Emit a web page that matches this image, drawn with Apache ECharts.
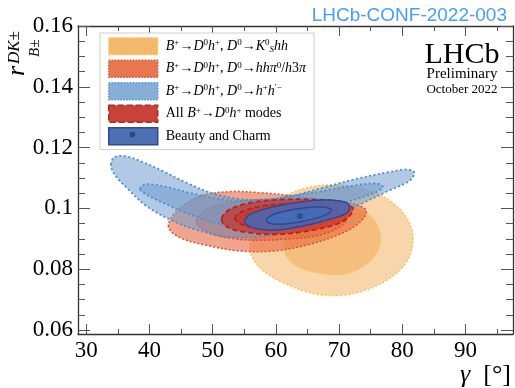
<!DOCTYPE html>
<html>
<head>
<meta charset="utf-8">
<script src="https://cdn.jsdelivr.net/npm/echarts@6/dist/echarts.min.js"></script>
<style>
  html, body { margin: 0; padding: 0; background: #fff; }
  #main { width: 515px; height: 388px; }
</style>
</head>
<body>
<div id="main"></div>
<script>
// axis ticks
const xMajor = [30, 40, 50, 60, 70, 80, 90];
const xMinor = [35, 45, 55, 65, 75, 85, 95];
const yMajor = [0.06, 0.08, 0.1, 0.12, 0.14, 0.16];
const yMinor = [0.065, 0.07, 0.075, 0.085, 0.09, 0.095, 0.105, 0.11, 0.115, 0.125, 0.13, 0.135, 0.145, 0.15, 0.155];

// contours [gamma, r_B]
// B->Dh, D->KShh
const kshh2 = [[55.9,0.0866],[56.9,0.0931],[60.1,0.1019],[63.2,0.1057],[67.4,0.1076],[71.7,0.1073],[76.4,0.1046],[80.1,0.0986],[81.7,0.0909],[80.6,0.0822],[76.9,0.0756],[71.7,0.0718],[66.4,0.0718],[61.1,0.0756],[57.4,0.0806]];
const kshh1 = [[61.4,0.0855],[62.2,0.0931],[65.3,0.0980],[69.6,0.1002],[73.8,0.0991],[76.1,0.0942],[76.4,0.0876],[74.3,0.0816],[70.6,0.0783],[66.4,0.0789],[63.2,0.0811]];
// B->Dh, D->hhpi0/h3pi
const hhpi2 = [[43.0,0.0940],[44.3,0.0991],[48.0,0.1040],[52.7,0.1055],[58.0,0.1051],[63.2,0.1040],[68.5,0.1024],[72.7,0.1013],[74.3,0.0991],[73.2,0.0953],[70.1,0.0915],[64.8,0.0879],[59.6,0.0860],[54.3,0.0860],[49.0,0.0879],[44.8,0.0904]];
const hhpi1 = [[47.4,0.0958],[49.5,0.1002],[54.3,0.1024],[60.1,0.1029],[66.4,0.1018],[70.6,0.0997],[71.1,0.0958],[67.4,0.0915],[61.1,0.0898],[54.3,0.0898],[49.5,0.0920]];
// B->Dh, D->hh'
const hh2 = [[33.9,0.1144],[34.5,0.1169],[36.4,0.1171],[39.0,0.1152],[42.2,0.1122],[45.9,0.1084],[49.5,0.1053],[53.8,0.1032],[58.0,0.1029],[62.2,0.1040],[67.4,0.1068],[72.7,0.1097],[78.0,0.1120],[80.9,0.1128],[81.9,0.1117],[81.1,0.1090],[78.0,0.1060],[73.8,0.1018],[68.5,0.0969],[63.2,0.0931],[58.0,0.0909],[52.7,0.0906],[48.0,0.0926],[43.8,0.0958],[39.5,0.1008],[36.4,0.1068],[34.5,0.1111]];
const hh1 = [[38.5,0.1064],[39.3,0.1079],[42.2,0.1073],[46.4,0.1051],[50.6,0.1032],[54.8,0.1024],[59.0,0.1029],[63.2,0.1043],[67.4,0.1057],[71.7,0.1073],[75.9,0.1082],[76.9,0.1071],[75.9,0.1054],[71.7,0.1024],[67.4,0.0999],[62.2,0.0969],[56.9,0.0948],[51.7,0.0948],[46.4,0.0980],[42.2,0.1018],[39.5,0.1046]];
// all B->Dh modes
const all2 = [[51.4,0.0966],[52.7,0.0997],[55.9,0.1018],[60.6,0.1029],[66.4,0.1029],[70.6,0.1021],[72.2,0.0997],[70.6,0.0958],[66.4,0.0931],[60.1,0.0915],[54.8,0.0923],[52.2,0.0940]];
const all1 = [[53.5,0.0966],[54.8,0.0991],[58.5,0.1010],[63.8,0.1016],[68.5,0.1013],[69.8,0.0997],[68.5,0.0969],[64.3,0.0947],[59.0,0.0937],[55.3,0.0942]];
// beauty and charm
const bc2 = [[55.1,0.0964],[56.4,0.0985],[60.1,0.1008],[64.8,0.1024],[69.0,0.1027],[71.4,0.1016],[71.4,0.0988],[68.5,0.0964],[64.3,0.0942],[60.1,0.0929],[56.9,0.0933],[55.3,0.0947]];
const bc1 = [[58.5,0.0964],[60.1,0.0984],[63.8,0.1000],[67.4,0.1005],[68.8,0.0995],[67.7,0.0977],[64.3,0.0958],[60.6,0.0948],[58.8,0.0953]];
const bestFit = [[63.8, 0.0975]];

const fontSerif = 'Liberation Serif';

// one custom series per mode: 2 sigma first, then 1 sigma on top
function contourSeries(name, shapes, fills, stroke, dash, lw) {
  return {
    name: name,
    type: 'custom',
    coordinateSystem: 'cartesian2d',
    data: shapes.map(s => s[0]),
    encode: { x: 0, y: 1 },
    silent: true,
    renderItem: function (params, api) {
      const pts = shapes[params.dataIndex].map(p => api.coord(p));
      return {
        type: 'polygon',
        shape: { points: pts, smooth: 0.35 },
        style: {
          fill: fills[params.dataIndex],
          stroke: stroke,
          lineWidth: lw,
          lineDash: dash
        }
      };
    }
  };
}

const rich = {
  i: { fontFamily: fontSerif, fontStyle: 'italic', fontSize: 14, lineHeight: 16, color: '#000' },
  t: { fontFamily: fontSerif, fontSize: 14, lineHeight: 16, color: '#000' },
  sp: { fontFamily: fontSerif, fontSize: 9, lineHeight: 9, verticalAlign: 'top', color: '#000' },
  sb: { fontFamily: fontSerif, fontStyle: 'italic', fontSize: 9, lineHeight: 9, verticalAlign: 'bottom', color: '#000' }
};
const bdh = '{i|B}{sp|+}{t|→}{i|D}{sp|0}{i|h}{sp|+}';
const legendText = {
  kshh: bdh + '{t|, }{i|D}{sp|0}{t|→}{i|K}{sp|0}{sb|S}{i|hh}',
  hhpi: bdh + '{t|, }{i|D}{sp|0}{t|→}{i|hhπ}{sp|0}{t|/}{i|h}{t|3}{i|π}',
  hh: bdh + '{t|, }{i|D}{sp|0}{t|→}{i|h}{sp|+}{i|h}{sp|′−}',
  all: '{t|All }' + bdh + '{t| modes}',
  bc: '{t|Beauty and Charm}'
};

const tickRich = { s: { fontFamily: fontSerif, fontSize: 23, color: '#000' } };

const chart = echarts.init(document.getElementById('main'), null, { renderer: 'canvas' });

function xAx(pos, ticks, len, showLine, showLabel) {
  return {
    type: 'value', min: 28.7, max: 97.5, position: pos,
    axisLine: { show: showLine, onZero: false, lineStyle: { color: '#333', width: 1.3 } },
    axisTick: { show: true, inside: true, length: len, customValues: ticks, lineStyle: { color: '#555', width: 1 } },
    axisLabel: { show: showLabel, customValues: ticks, margin: 5, rich: tickRich,
      formatter: v => '{s|' + Math.round(v) + '}' },
    splitLine: { show: false }
  };
}
function yAx(pos, ticks, len, showLine, showLabel) {
  return {
    type: 'value', min: 0.0587, max: 0.16, position: pos,
    axisLine: { show: showLine, onZero: false, lineStyle: { color: '#333', width: 1.3 } },
    axisTick: { show: true, inside: true, length: len, customValues: ticks, lineStyle: { color: '#555', width: 1 } },
    axisLabel: { show: showLabel, customValues: ticks, margin: 5, rich: tickRich,
      formatter: v => '{s|' + (+v.toFixed(3)) + '}' },
    splitLine: { show: false }
  };
}

const option = {
  animation: false,
  backgroundColor: '#fff',
  textStyle: { fontFamily: fontSerif },
  title: {
    text: 'LHCb-CONF-2022-003',
    right: 3, top: 1,
    textStyle: { color: '#4c9cf5', fontFamily: 'Liberation Sans', fontSize: 19, fontWeight: 'normal' }
  },
  grid: { left: 78, right: 2, top: 26, bottom: 54, outerBoundsMode: 'none' },
  xAxis: [
    xAx('bottom', xMajor, 10, true, true),
    xAx('bottom', xMinor, 5, false, false),
    xAx('top', xMajor, 10, true, false),
    xAx('top', xMinor, 5, false, false)
  ],
  yAxis: [
    yAx('left', yMajor, 12, true, true),
    yAx('left', yMinor, 7, false, false),
    yAx('right', yMajor, 12, true, false),
    yAx('right', yMinor, 7, false, false)
  ],
  legend: {
    orient: 'vertical',
    left: 100, top: 33,
    padding: [4, 8, 4, 8],
    itemWidth: 49, itemHeight: 17, itemGap: 4,
    backgroundColor: '#fff',
    borderColor: '#cfcfcf', borderWidth: 1,
    selectedMode: false,
    formatter: name => legendText[name],
    textStyle: { rich: rich, padding: [0, 0, 0, 3] },
    data: [
      { name: 'kshh', icon: 'rect', itemStyle: { color: '#f4b86c', borderColor: '#f7c85c', borderWidth: 1.5, borderType: 'dotted' } },
      { name: 'hhpi', icon: 'rect', itemStyle: { color: '#e9764f', borderColor: '#d95530', borderWidth: 1.5, borderType: 'dotted' } },
      { name: 'hh', icon: 'rect', itemStyle: { color: '#86aed6', borderColor: '#4a90d0', borderWidth: 1.5, borderType: 'dotted' } },
      { name: 'all', icon: 'rect', itemStyle: { color: '#c8423a', borderColor: '#b22a20', borderWidth: 1.5, borderType: 'dashed' } },
      { name: 'bc', icon: 'rect', itemStyle: { color: '#4d70b4', borderColor: '#2d4a92', borderWidth: 1.5, borderType: 'solid' } }
    ]
  },
  graphic: [
    // dot on the beauty+charm legend swatch
    { type: 'circle', shape: { cx: 132.5, cy: 134.5, r: 2.8 }, style: { fill: '#2d4785' }, z: 100 },
    { type: 'text', x: 462, y: 55, style: { text: 'LHCb', font: '30px "Liberation Serif"', fill: '#000', align: 'center', verticalAlign: 'middle' } },
    { type: 'text', x: 462, y: 74, style: { text: 'Preliminary', font: '15px "Liberation Serif"', fill: '#000', align: 'center', verticalAlign: 'middle' } },
    { type: 'text', x: 462, y: 90, style: { text: 'October 2022', font: '13px "Liberation Serif"', fill: '#000', align: 'center', verticalAlign: 'middle' } },
    // y axis title r^{DK±}_{B±}
    { type: 'text', x: 17, y: 76, rotation: Math.PI / 2, style: { text: 'r', font: 'italic 26px "Liberation Serif"', fill: '#000', align: 'left', verticalAlign: 'middle' } },
    { type: 'text', x: 15, y: 64, rotation: Math.PI / 2, style: { text: 'DK±', font: 'italic 17px "Liberation Serif"', fill: '#000', align: 'left', verticalAlign: 'middle' } },
    { type: 'text', x: 35, y: 57, rotation: Math.PI / 2, style: { text: 'B±', font: 'italic 15px "Liberation Serif"', fill: '#000', align: 'left', verticalAlign: 'middle' } },
    // x axis title
    { type: 'text', x: 511, y: 375, style: { text: '{g|γ}{t|  [°]}', align: 'right', verticalAlign: 'middle',
      rich: { g: { font: 'italic 26px "Liberation Serif"', fill: '#000' }, t: { font: '26px "Liberation Serif"', fill: '#000' } } } }
  ],
  series: [
    contourSeries('kshh', [kshh2, kshh1], ['rgba(242,162,72,0.45)', 'rgba(242,162,72,0.45)'], '#f6c65a', [2, 2], 1.5),
    contourSeries('hhpi', [hhpi2, hhpi1], ['rgba(232,100,60,0.58)', 'rgba(232,100,60,0.55)'], '#d9522e', [2, 2], 1.5),
    contourSeries('hh', [hh2, hh1], ['rgba(105,152,205,0.52)', 'rgba(105,152,205,0.5)'], '#4a90d0', [2, 2.5], 1.8),
    contourSeries('all', [all2, all1], ['rgba(200,52,45,0.75)', 'rgba(200,52,45,0.75)'], '#b3261e', [5, 3], 1.8),
    contourSeries('bc', [bc2, bc1], ['rgba(72,104,180,0.85)', 'rgba(66,108,185,0.9)'], '#2c4a94', null, 1.5),
    {
      name: 'best', type: 'scatter', data: bestFit, symbolSize: 6, silent: true,
      itemStyle: { color: '#2e4785' }, z: 5
    }
  ]
};
chart.setOption(option);
</script>
</body>
</html>
